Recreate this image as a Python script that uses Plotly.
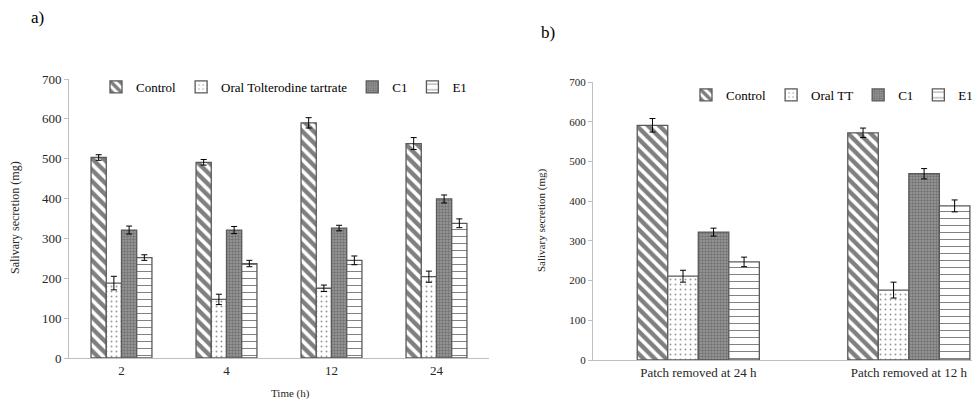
import plotly.graph_objects as go

# ---- data ----
time_labels = ["2", "4", "12", "24"]
control_a = [503, 491, 590, 538]
control_a_err = [7, 7, 13, 15]
oral_a = [188, 147, 175, 204]
oral_a_err = [17, 13, 8, 14]
c1_a = [321, 321, 326, 399]
c1_a_err = [10, 9, 7, 10]
e1_a = [252, 237, 245, 338]
e1_a_err = [7, 8, 11, 11]

patch_labels = ["Patch removed at 24 h", "Patch removed at 12 h"]
control_b = [591, 572]
control_b_err = [17, 12]
oral_b = [211, 176]
oral_b_err = [15, 20]
c1_b = [322, 469]
c1_b_err = [10, 13]
e1_b = [247, 388]
e1_b_err = [12, 15]

names_a = ["Control", "Oral Tolterodine tartrate", "C1", "E1"]
names_b = ["Control", "Oral TT", "C1", "E1"]

FONT = "Liberation Serif, Times New Roman, serif"
OUTLINE = "#5a5a5a"

styles = [
    dict(color="white", pattern=dict(shape="\\", fgcolor="black", bgcolor="white", size=8, solidity=0.55)),
    dict(color="white", pattern=dict(shape=".", fgcolor="#333333", bgcolor="white", size=5, solidity=0.12)),
    dict(color="#808080", pattern=dict(shape=".", fgcolor="#4a4a4a", bgcolor="#9a9a9a", size=3, solidity=0.5)),
    dict(color="white", pattern=dict(shape="-", fgcolor="black", bgcolor="white", size=7, solidity=0.14)),
]

fig = go.Figure()

series_a = [(control_a, control_a_err), (oral_a, oral_a_err), (c1_a, c1_a_err), (e1_a, e1_a_err)]
series_b = [(control_b, control_b_err), (oral_b, oral_b_err), (c1_b, c1_b_err), (e1_b, e1_b_err)]

for i, (vals, errs) in enumerate(series_a):
    st = styles[i]
    fig.add_trace(go.Bar(
        x=time_labels, y=vals, name=names_a[i],
        xaxis="x", yaxis="y", legend="legend",
        marker=dict(color=st["color"], pattern=st["pattern"], line=dict(color=OUTLINE, width=1.3)),
        error_y=dict(type="data", array=errs, color="black", thickness=1, width=3),
        offsetgroup=str(i),
    ))

for i, (vals, errs) in enumerate(series_b):
    st = styles[i]
    fig.add_trace(go.Bar(
        x=patch_labels, y=vals, name=names_b[i],
        xaxis="x2", yaxis="y2", legend="legend2",
        marker=dict(color=st["color"], pattern=st["pattern"], line=dict(color=OUTLINE, width=1.3)),
        error_y=dict(type="data", array=errs, color="black", thickness=1, width=3),
        offsetgroup=str(i),
    ))

axis_common = dict(showgrid=False, zeroline=False, showline=True, linecolor="#bfbfbf", linewidth=1)

fig.update_layout(
    width=980, height=401,
    margin=dict(l=0, r=0, t=0, b=0, autoexpand=False),
    paper_bgcolor="white", plot_bgcolor="white",
    barmode="group", bargap=0.42, bargroupgap=0,
    font=dict(family=FONT, color="#404040", size=12),
    xaxis=dict(domain=[69/980, 489/980], anchor="y", ticks="", tickfont=dict(size=13, color="#262626"),
               range=[-0.5, 3.5], **axis_common),
    yaxis=dict(domain=[(401-358)/401, (401-79)/401], anchor="x", range=[0, 700], dtick=100,
               ticks="outside", ticklen=4, tickcolor="#bfbfbf", tickfont=dict(size=13, color="#262626"),
               **axis_common),
    xaxis2=dict(domain=[593/980, 972/980], anchor="y2", ticks="", tickfont=dict(size=13, color="#262626"),
                range=[-0.5, 1.30], **axis_common),
    yaxis2=dict(domain=[(401-360)/401, (401-82)/401], anchor="x2", range=[0, 700], dtick=100,
                ticks="outside", ticklen=4, tickcolor="#bfbfbf", tickfont=dict(size=11, color="#262626"),
                **axis_common),
    legend=dict(orientation="h", x=472/980, y=(401-87)/401, xanchor="right", yanchor="middle",
                font=dict(size=13, color="black", family=FONT), itemwidth=30, bgcolor="rgba(0,0,0,0)",
                tracegroupgap=0),
    legend2=dict(orientation="h", x=978/980, y=(401-95)/401, xanchor="right", yanchor="middle",
                 font=dict(size=13, color="black", family=FONT), itemwidth=30, bgcolor="rgba(0,0,0,0)",
                 tracegroupgap=0),
    showlegend=True,
)

annos = [
    dict(text="a)", x=37/980, y=(401-18)/401, font=dict(size=17, color="black")),
    dict(text="b)", x=548/980, y=(401-33)/401, font=dict(size=17, color="black")),
    dict(text="Salivary secretion (mg)", x=15/980, y=(401-218)/401, textangle=-90,
         font=dict(size=12, color="#262626")),
    dict(text="Salivary secretion (mg)", x=541/980, y=(401-220)/401, textangle=-90,
         font=dict(size=11, color="#262626")),
    dict(text="Time (h)", x=290/980, y=(401-393)/401, font=dict(size=11, color="#262626")),
]
for a in annos:
    fig.add_annotation(xref="paper", yref="paper", showarrow=False, xanchor="center", yanchor="middle", **a)

fig.write_html(
    "out.html",
    post_script="document.body.style.margin='0';document.body.style.overflow='hidden';",
)
